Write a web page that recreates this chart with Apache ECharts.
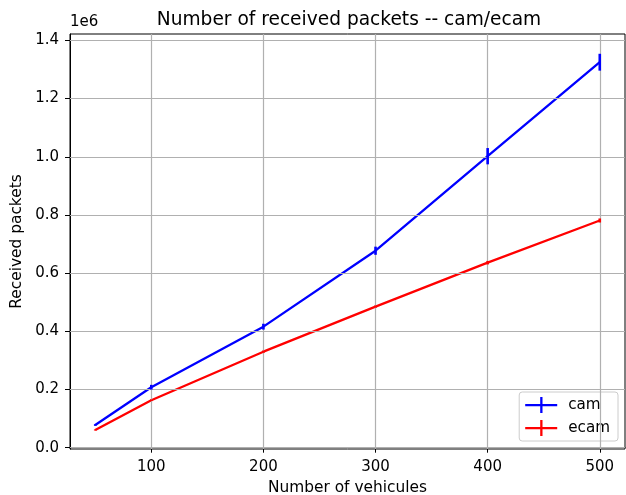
<!DOCTYPE html>
<html>
<head>
<meta charset="utf-8">
<script src="https://cdn.jsdelivr.net/npm/echarts@6/dist/echarts.min.js"></script>
<style>
html,body{margin:0;padding:0;background:#fff;}
#c{width:626px;height:495px;}
</style>
</head>
<body>
<div id="c"></div>
<script>
// ---- data ----
var vehicles = [50, 100, 200, 300, 400, 500];
var cam      = [78000, 208000, 416000, 677000, 1002000, 1325000];
var camErr   = [3000, 8000, 10000, 14000, 28000, 29000];
var ecam     = [61000, 163000, 330000, 485000, 636000, 781000];
var ecamErr  = [2000, 3000, 4000, 4000, 6000, 7000];
var xTicks   = [100, 200, 300, 400, 500];
var yTicks   = [0, 200000, 400000, 600000, 800000, 1000000, 1200000, 1400000];

var FONT = 'DejaVu Sans';
var crossIcon = 'path://M0,7L32,7L32,9.3L0,9.3Z M15,0L17.3,0L17.3,16L15,16Z';

function pairs(xs, ys) { return xs.map(function (x, i) { return [x, ys[i]]; }); }
function errData(xs, ys, es) { return xs.map(function (x, i) { return [x, ys[i] - es[i], ys[i] + es[i]]; }); }
function errSeries(name, xs, ys, es, color) {
  return {
    type: 'custom', name: name, z: 5, silent: true,
    data: errData(xs, ys, es),
    encode: { x: 0, y: [1, 2] },
    renderItem: function (params, api) {
      var p1 = api.coord([api.value(0), api.value(1)]);
      var p2 = api.coord([api.value(0), api.value(2)]);
      return { type: 'line', shape: { x1: p1[0], y1: p1[1], x2: p2[0], y2: p2[1] },
               style: { stroke: color, lineWidth: 2.6, opacity: 1 } };
    }
  };
}

var chart = echarts.init(document.getElementById('c'), null, { renderer: 'canvas' });
chart.setOption({
  animation: false,
  backgroundColor: '#ffffff',
  textStyle: { fontFamily: FONT },
  title: {
    text: 'Number of received packets -- cam/ecam',
    left: 344, top: 6, textAlign: 'center',
    textStyle: { fontFamily: FONT, fontSize: 18.6, fontWeight: 'normal', color: '#000' }
  },
  grid: { left: 70, right: 1, top: 34, bottom: 46, outerBoundsMode: 'none', containLabel: false,
          show: true, borderColor: '#000', borderWidth: 1, backgroundColor: 'transparent' },
  legend: {
    orient: 'vertical', right: 8, bottom: 54,
    backgroundColor: 'rgba(255,255,255,0.8)', borderColor: '#cccccc', borderWidth: 1, borderRadius: 3,
    padding: [5, 8, 5, 6], itemGap: 7, itemWidth: 32, itemHeight: 16,
    textStyle: { fontFamily: FONT, fontSize: 15.2, color: '#000', padding: [0, 0, 0, 6] },
    data: [{ name: 'cam', icon: crossIcon }, { name: 'ecam', icon: crossIcon }]
  },
  graphic: [{
    type: 'text', left: 70, top: 15,
    style: { text: '1e6', font: '15px "DejaVu Sans"', fill: '#000' }
  }],
  xAxis: {
    type: 'value', min: 27.5, max: 522.5,
    name: 'Number of vehicules', nameLocation: 'middle', nameGap: 31,
    nameTextStyle: { fontFamily: FONT, fontSize: 15.4, color: '#000', verticalAlign: 'top' },
    axisLine: { show: true, lineStyle: { color: '#000', width: 1 } },
    axisTick: { show: true, customValues: xTicks, length: 5, inside: false, lineStyle: { color: '#000' } },
    axisLabel: { customValues: xTicks, margin: 11, fontFamily: FONT, fontSize: 15, color: '#000' },
    splitLine: { show: false }
  },
  yAxis: {
    type: 'value', min: -4500, max: 1422000,
    name: 'Received packets', nameLocation: 'middle', nameGap: 39, nameRotate: 90,
    nameTextStyle: { fontFamily: FONT, fontSize: 15.4, color: '#000' },
    axisLine: { show: true, lineStyle: { color: '#000', width: 1 } },
    axisTick: { show: true, customValues: yTicks, length: 5, inside: false, lineStyle: { color: '#000' } },
    axisLabel: { customValues: yTicks, margin: 11, fontFamily: FONT, fontSize: 15, color: '#000',
                 formatter: function (v) { return (v / 1e6).toFixed(1); } },
    splitLine: { show: false }
  },
  series: [
    {
      type: 'line', name: 'gridlines', z: 1, silent: true, data: [],
      markLine: {
        silent: true, symbol: ['none', 'none'], label: { show: false },
        lineStyle: { color: '#b0b0b0', width: 1.2, type: 'solid' },
        data: xTicks.map(function (v) { return { xAxis: v }; })
                .concat(yTicks.map(function (v) { return { yAxis: v }; }))
      }
    },
    { type: 'line', name: 'cam', color: '#0000ff', z: 4, data: pairs(vehicles, cam), showSymbol: false,
      symbol: 'none', lineStyle: { color: '#0000ff', width: 2.3 } },
    { type: 'line', name: 'ecam', color: '#ff0000', z: 4, data: pairs(vehicles, ecam), showSymbol: false,
      symbol: 'none', lineStyle: { color: '#ff0000', width: 2.3 } },
    errSeries('camErr', vehicles, cam, camErr, '#0000ff'),
    errSeries('ecamErr', vehicles, ecam, ecamErr, '#ff0000')
  ]
});
</script>
</body>
</html>
